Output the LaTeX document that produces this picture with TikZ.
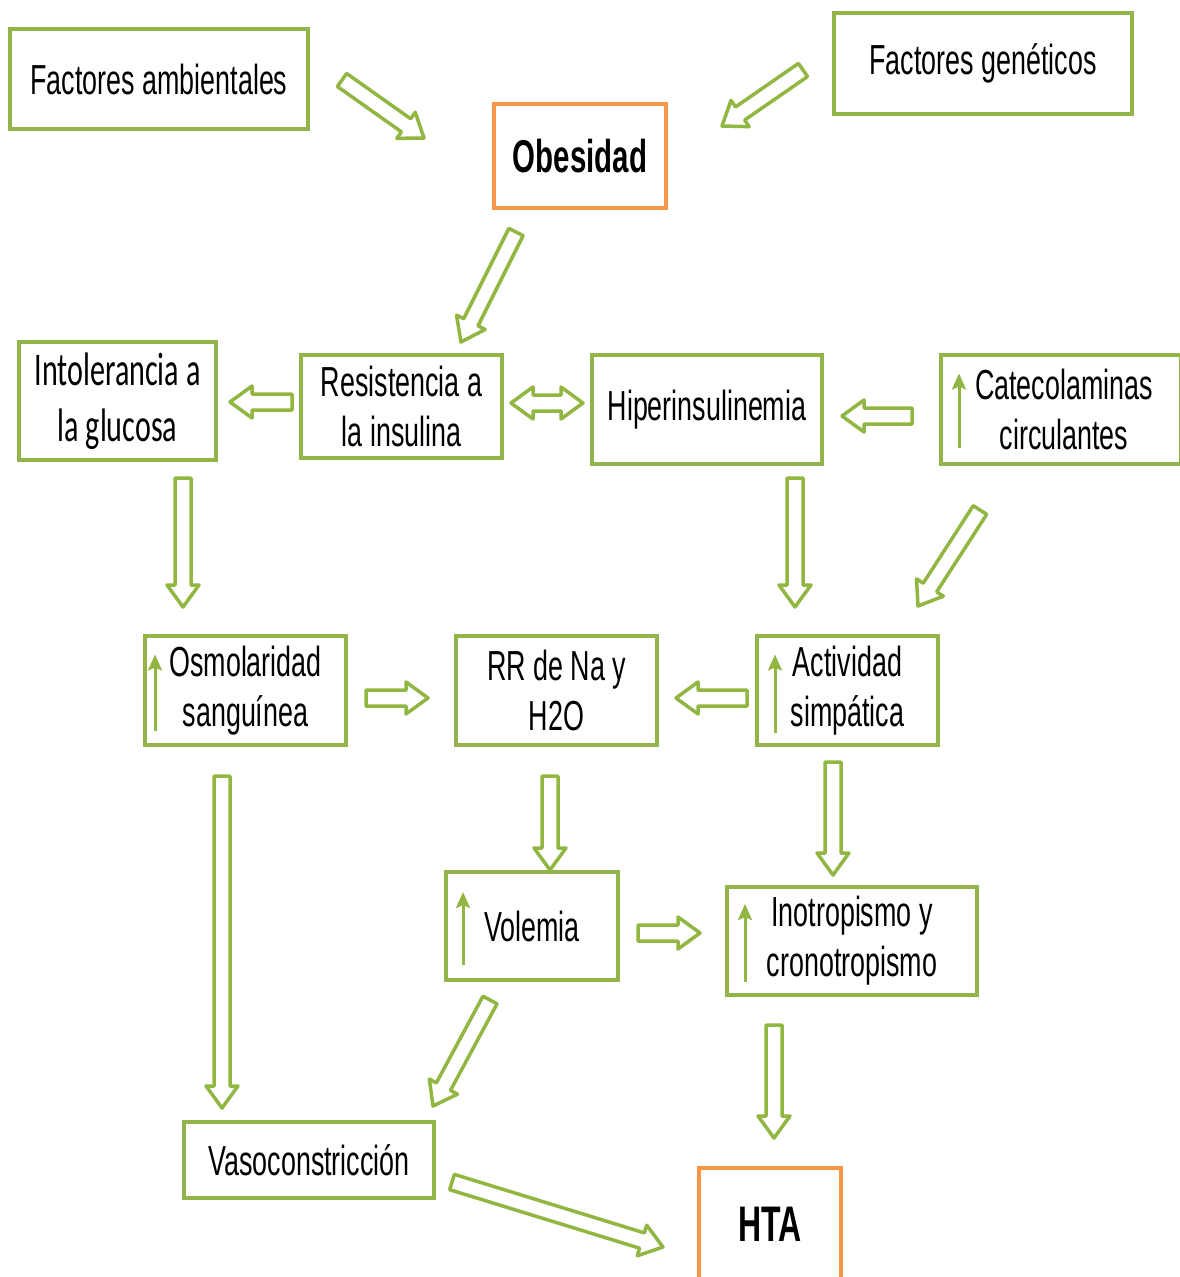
\documentclass[tikz,border=0pt]{standalone}
\usepackage{fontspec}
\setmainfont{Liberation Sans}[FakeStretch=0.64]
\newfontfamily\calibri{Carlito}[FakeStretch=0.64]
\usetikzlibrary{calc,arrows.meta}
\definecolor{gborder}{RGB}{146,180,72}
\definecolor{oborder}{RGB}{247,150,70}
\definecolor{garrow}{RGB}{146,182,66}
\newcommand\barrow[2]{%
  \coordinate (hb) at ($(#2)!22pt!(#1)$);
  \draw[blockarrow] ($(#1)!8pt!90:(#2)$) -- ($(hb)!8pt!90:(#2)$) -- ($(hb)!16pt!90:(#2)$) -- (#2)
    -- ($(hb)!16pt!-90:(#2)$) -- ($(hb)!8pt!-90:(#2)$) -- ($(#1)!8pt!-90:(#2)$) -- cycle;}
\newcommand\bdarrow[2]{%
  \coordinate (hb) at ($(#2)!22pt!(#1)$);
  \coordinate (ha) at ($(#1)!22pt!(#2)$);
  \draw[blockarrow] (#1) -- ($(ha)!16pt!90:(#2)$) -- ($(ha)!8pt!90:(#2)$) -- ($(hb)!8pt!90:(#2)$) -- ($(hb)!16pt!90:(#2)$) -- (#2)
    -- ($(hb)!16pt!-90:(#2)$) -- ($(hb)!8pt!-90:(#2)$) -- ($(ha)!8pt!-90:(#2)$) -- ($(ha)!16pt!-90:(#2)$) -- cycle;}
\begin{document}
\begin{tikzpicture}[x=1pt,y=-1pt,
  box/.style={draw=gborder,line width=4pt,fill=white,inner sep=0pt,align=center,
    font=\fontsize{42}{50}\selectfont},
  obox/.style={box,draw=oborder,font=\fontsize{46}{50}\selectfont\bfseries},
  blockarrow/.style={draw=garrow,line width=3.5pt,fill=white,line join=round},
  uparrow/.style={draw=garrow,line width=3pt,-{Stealth[length=16pt,width=14pt,inset=3pt]}}]
\useasboundingbox (0,0) rectangle (1180,1277);
\fill[white] (0,0) rectangle (1180,1277);

% boxes
\node[box,minimum width=298pt,minimum height=100pt] (amb) at (159,79) {Factores ambientales};
\node[box,minimum width=298pt,minimum height=101pt] (gen) at (983,63) {Factores genéticos};
\node[obox,minimum width=172pt,minimum height=104pt] (obes) at (580,156) {Obesidad};
\node[box,minimum width=197pt,minimum height=118pt,font=\calibri\fontsize{47}{56}\selectfont] (intol) at (117.5,401) {Intolerancia a\\la glucosa};
\node[box,minimum width=201pt,minimum height=103pt] (resis) at (401.5,406.5) {Resistencia a\\la insulina};
\node[box,minimum width=230pt,minimum height=109pt] (hiper) at (707,409.5) {Hiperinsulinemia};
\node[box,minimum width=240pt,minimum height=109pt] (cate) at (1061,409.5) {\hspace*{6pt}Catecolaminas\\\hspace*{6pt}circulantes};
\node[box,minimum width=201pt,minimum height=109pt] (osmo) at (245.5,690.5) {Osmolaridad\\sanguínea};
\node[box,minimum width=201pt,minimum height=109pt] (rr) at (556.5,690.5) {RR de Na y\\H2O};
\node[box,minimum width=181pt,minimum height=109pt] (act) at (847.5,690.5) {Actividad\\simpática};
\node[box,minimum width=172pt,minimum height=108pt] (vol) at (532,926) {Volemia};
\node[box,minimum width=250pt,minimum height=108pt] (ino) at (852,941) {Inotropismo y\\cronotropismo};
\node[box,minimum width=250pt,minimum height=76pt] (vaso) at (309,1160) {Vasoconstricción};
\node[obox,minimum width=142pt,minimum height=112pt,font=\fontsize{50}{54}\selectfont\bfseries] (hta) at (770,1224) {HTA};

% small "increase" arrows inside boxes
\draw[uparrow] ($(cate.west)+(20,38)$) -- ($(cate.west)+(20,-36)$);
\draw[uparrow] ($(osmo.west)+(12,40)$) -- ($(osmo.west)+(12,-36)$);
\draw[uparrow] ($(act.west)+(20,42)$) -- ($(act.west)+(20,-36)$);
\draw[uparrow] ($(vol.west)+(19,39)$) -- ($(vol.west)+(19,-34)$);
\draw[uparrow] ($(ino.west)+(20,41)$) -- ($(ino.west)+(20,-37)$);

% arrow end points
\coordinate (a1s) at (342,80);   \coordinate (a1e) at (424,138);
\coordinate (a2s) at (803,70);   \coordinate (a2e) at (722,126);
\coordinate (a3s) at (516,232);  \coordinate (a3e) at (461,342);
\coordinate (a4s) at (292,402);  \coordinate (a4e) at (230,402);
\coordinate (a5s) at (511,403);  \coordinate (a5e) at (583,403);
\coordinate (a6s) at (912,416);  \coordinate (a6e) at (842,416);
\coordinate (a7s) at (183,478);  \coordinate (a7e) at (183,607);
\coordinate (a8s) at (795,478);  \coordinate (a8e) at (795,607);
\coordinate (a9s) at (980,510);  \coordinate (a9e) at (918,606);
\coordinate (a10s) at (366,698); \coordinate (a10e) at (428,698);
\coordinate (a11s) at (747,698); \coordinate (a11e) at (676,698);
\coordinate (a12s) at (222,776); \coordinate (a12e) at (222,1108);
\coordinate (a13s) at (550,776); \coordinate (a13e) at (550,870);
\coordinate (a14s) at (833,762); \coordinate (a14e) at (833,875);
\coordinate (a15s) at (638,933); \coordinate (a15e) at (700,933);
\coordinate (a16s) at (490,1000);\coordinate (a16e) at (433,1106);
\coordinate (a17s) at (774,1025);\coordinate (a17e) at (774,1138);
\coordinate (a18s) at (452,1182);\coordinate (a18e) at (663,1247);

\barrow{a1s}{a1e}
\barrow{a2s}{a2e}
\barrow{a3s}{a3e}
\barrow{a4s}{a4e}
\bdarrow{a5s}{a5e}
\barrow{a6s}{a6e}
\barrow{a7s}{a7e}
\barrow{a8s}{a8e}
\barrow{a9s}{a9e}
\barrow{a10s}{a10e}
\barrow{a11s}{a11e}
\barrow{a12s}{a12e}
\barrow{a13s}{a13e}
\barrow{a14s}{a14e}
\barrow{a15s}{a15e}
\barrow{a16s}{a16e}
\barrow{a17s}{a17e}
\barrow{a18s}{a18e}
\end{tikzpicture}
\end{document}
